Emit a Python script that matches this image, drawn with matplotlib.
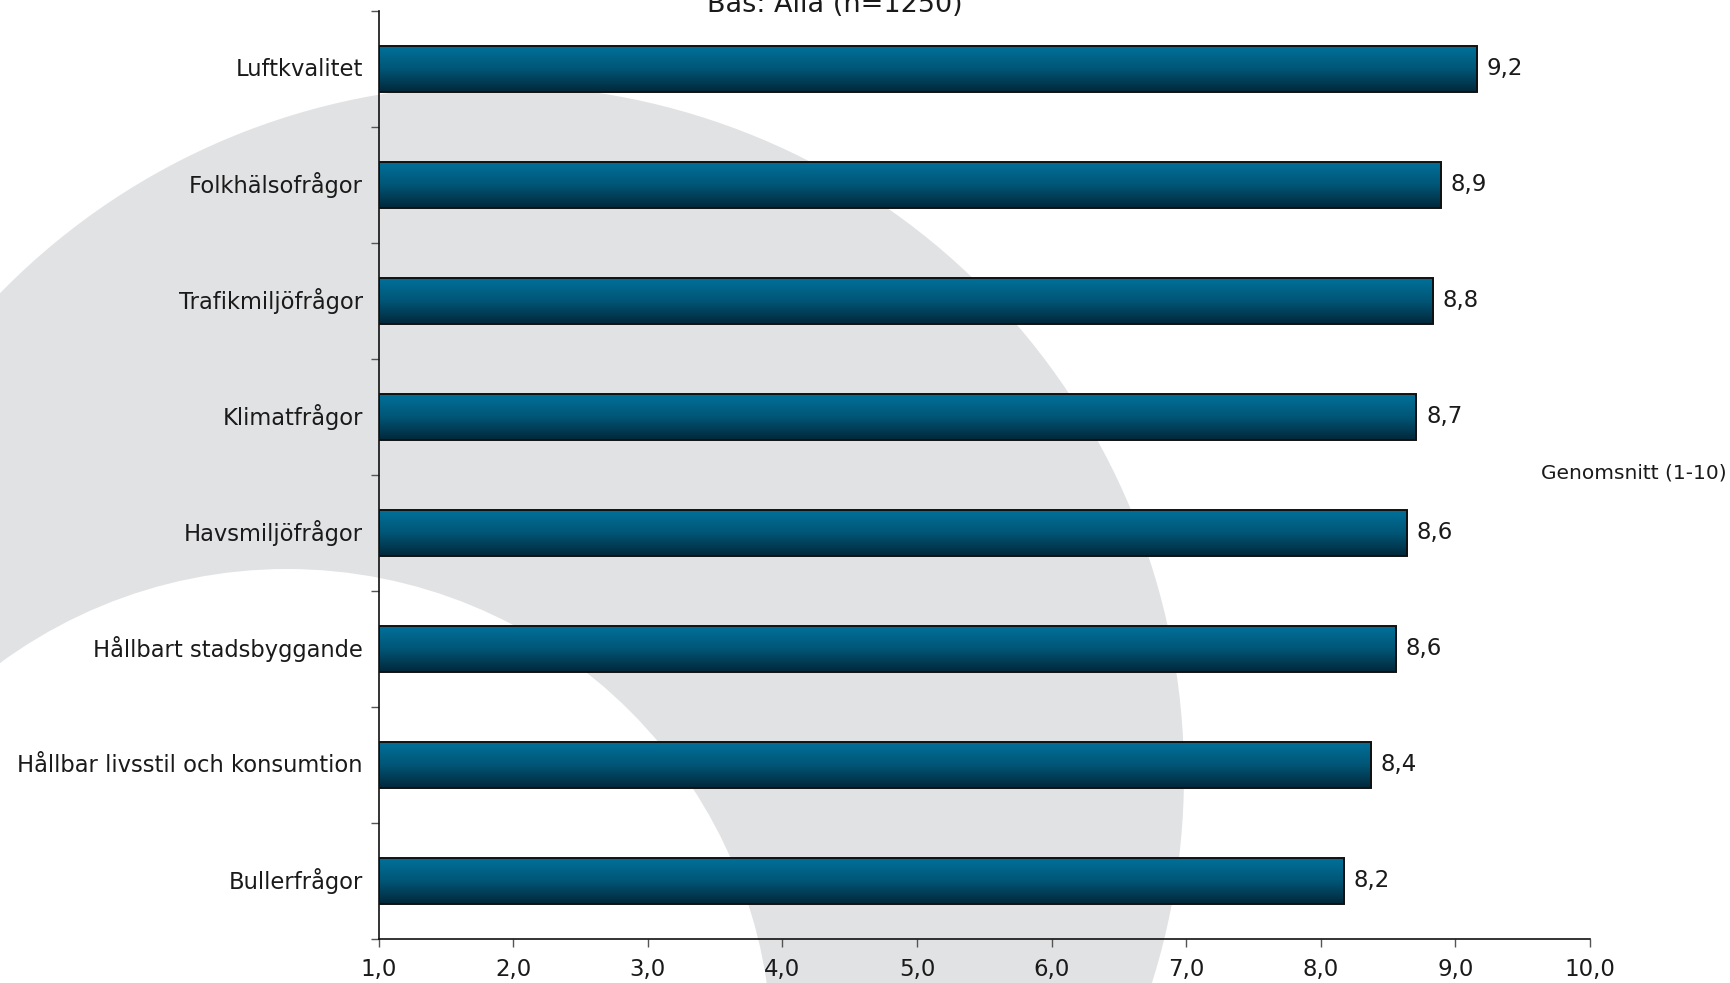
import matplotlib
matplotlib.use("Agg")
import matplotlib.pyplot as plt
import numpy as np
from matplotlib.patches import Circle
from matplotlib.colors import LinearSegmentedColormap

# ── data ─────────────────────────────────────────────────────────────
categories = ["Luftkvalitet", "Folkhälsofrågor", "Trafikmiljöfrågor", "Klimatfrågor",
              "Havsmiljöfrågor", "Hållbart stadsbyggande",
              "Hållbar livsstil och konsumtion", "Bullerfrågor"]
values = [9.16, 8.89, 8.83, 8.71, 8.64, 8.56, 8.37, 8.17]
value_labels = ["9,2", "8,9", "8,8", "8,7", "8,6", "8,6", "8,4", "8,2"]
xticks = [1, 2, 3, 4, 5, 6, 7, 8, 9, 10]
xtick_labels = ["1,0", "2,0", "3,0", "4,0", "5,0", "6,0", "7,0", "8,0", "9,0", "10,0"]

W, H = 1730, 983
fig = plt.figure(figsize=(W / 100, H / 100), dpi=100)
fig.patch.set_facecolor("white")

# ── background swoosh (pixel coords) ─────────────────────────────────
bg = fig.add_axes([0, 0, 1, 1], zorder=0)
bg.set_xlim(0, W); bg.set_ylim(H, 0); bg.axis("off")
bg.add_patch(Circle((494, 775), 690, color="#e1e2e4", lw=0))
bg.add_patch(Circle((287, 1054), 485, color="white", lw=0))

# ── main chart ───────────────────────────────────────────────────────
ax = fig.add_axes([378.5 / W, 1 - 939 / H, (1590 - 378.5) / W, (939 - 11) / H], zorder=1)
ax.patch.set_alpha(0)

n = len(categories)
ypos = np.arange(n)
bar_h = 0.405
cmap = LinearSegmentedColormap.from_list("bar", ["#00729c", "#005677", "#02283a"])
grad = np.linspace(0, 1, 256).reshape(-1, 1)

bars = ax.barh(ypos, [v - 1 for v in values], left=1, height=bar_h,
               color="none", edgecolor="#111111", lw=1.4, zorder=3)
for b, v, lab in zip(bars, values, value_labels):
    y0 = b.get_y()
    im = ax.imshow(grad, cmap=cmap, aspect="auto", zorder=2,
                   extent=[1, v, y0 + bar_h, y0])
    im.set_clip_path(b)
    ax.annotate(lab, (v, y0 + bar_h / 2), xytext=(7, 0), textcoords="offset points",
                va="center", ha="left", fontsize=16.5, color="#1a1a1a")

ax.set_xlim(1, 10)
ax.set_ylim(n - 0.5, -0.5)
ax.set_xticks(xticks)
ax.set_xticklabels(xtick_labels, fontsize=16.5, color="#1a1a1a")
ax.tick_params(axis="x", length=6, width=1, pad=8, color="#555555")

# category labels as text, boundary ticks on y-axis
ax.set_yticks(np.arange(-0.5, n, 1))
ax.set_yticklabels([])
ax.tick_params(axis="y", length=6, width=1, color="#555555")
for y, c in zip(ypos, categories):
    ax.text(-0.013, y, c, transform=ax.get_yaxis_transform(), ha="right", va="center",
            fontsize=16.3, color="#1a1a1a")

for s in ["top", "right"]:
    ax.spines[s].set_visible(False)
for s in ["left", "bottom"]:
    ax.spines[s].set_linewidth(1.2)
    ax.spines[s].set_color("#111111")

fig.text(835 / W, 1 - 5 / H, "Bas: Alla (n=1250)", ha="center", va="center",
         fontsize=19.5, color="#1a1a1a")
fig.text(1634 / W, 1 - 473 / H, "Genomsnitt (1-10)", ha="center", va="center",
         fontsize=14.5, color="#1a1a1a")

fig.savefig("out.png", dpi=100)
